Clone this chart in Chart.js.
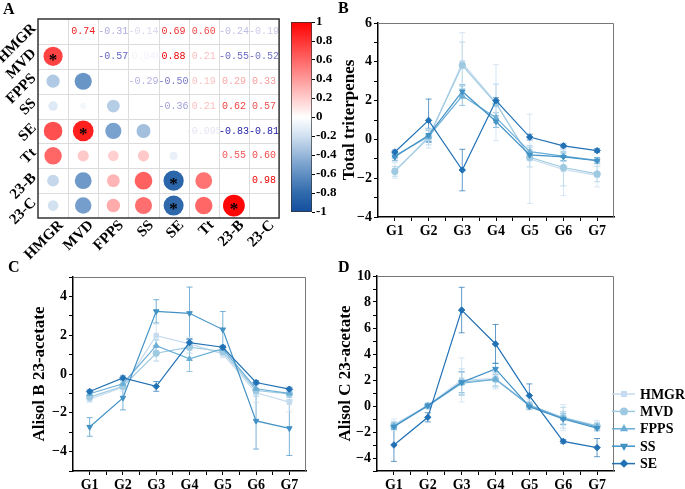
<!DOCTYPE html>
<html>
<head>
<meta charset="utf-8">
<script src="https://cdn.jsdelivr.net/npm/chart.js@4.4.1/dist/chart.umd.min.js"></script>
<style>
  html, body { margin: 0; padding: 0; background: #fff; }
  body { position: relative; width: 685px; height: 489px; overflow: hidden; }
  .panel { position: absolute; }
  .tag { position: absolute; font: bold 16px/16px 'Liberation Serif', serif; color: #000; }
</style>
</head>
<body>
<canvas id="corr" class="panel" width="290" height="262" style="left:0;top:0"></canvas>
<canvas id="cbar" class="panel" width="60" height="250" style="left:285px;top:0"></canvas>
<canvas id="tt" class="panel" width="300" height="250" style="left:330px;top:0"></canvas>
<canvas id="ab" class="panel" width="320" height="239" style="left:0;top:250px"></canvas>
<canvas id="ac" class="panel" width="350" height="239" style="left:335px;top:250px"></canvas>
<div class="tag" style="left:3px;top:1px">A</div>
<div class="tag" style="left:338px;top:0px">B</div>
<div class="tag" style="left:8px;top:259px">C</div>
<div class="tag" style="left:338px;top:259px">D</div>
<script>
// ---- panel A: correlation matrix ----
const traits = ['HMGR', 'MVD', 'FPPS', 'SS', 'SE', 'Tt', '23-B', '23-C'];
const corrHMGR = [1, 0.74, -0.31, -0.14, 0.69, 0.60, -0.24, -0.19];
const corrMVD  = [0.74, 1, -0.57, -0.048, 0.88, 0.21, -0.55, -0.52];
const corrFPPS = [-0.31, -0.57, 1, -0.29, -0.50, 0.19, 0.29, 0.33];
const corrSS   = [-0.14, -0.048, -0.29, 1, -0.36, 0.21, 0.62, 0.57];
const corrSE   = [0.69, 0.88, -0.50, -0.36, 1, -0.095, -0.83, -0.81];
const corrTt   = [0.60, 0.21, 0.19, 0.21, -0.095, 1, 0.55, 0.60];
const corr23B  = [-0.24, -0.55, 0.29, 0.62, -0.83, 0.55, 1, 0.98];
const corr23C  = [-0.19, -0.52, 0.33, 0.57, -0.81, 0.60, 0.98, 1];
const sigPairs = [['MVD', 'HMGR'], ['SE', 'MVD'], ['23-B', 'SE'], ['23-C', 'SE'], ['23-C', '23-B']];
const cbTicks = [1, 0.8, 0.6, 0.4, 0.2, 0, -0.2, -0.4, -0.6, -0.8, -1];
const cbRange = [-1, 1];

// ---- panels B-D: group profiles ----
const groups = ['G1', 'G2', 'G3', 'G4', 'G5', 'G6', 'G7'];
const genes = ['HMGR', 'MVD', 'FPPS', 'SS', 'SE'];

const ttHMGR = [-1.60, 0.05, 3.95, 1.90, -1.00, -1.55, -1.85];
const ttMVD  = [-1.65, 0.12, 3.82, 1.85, -0.92, -1.45, -1.78];
const ttFPPS = [-0.85, 0.15, 2.25, 1.12, -0.63, -0.86, -1.08];
const ttSS   = [-0.90, 0.22, 2.47, 0.92, -0.80, -0.90, -1.10];
const ttSE   = [-0.65, 0.98, -1.58, 2.00, 0.12, -0.33, -0.58];
const ttErrHMGR = [0.40, 0.50, 1.55, 1.95, 2.30, 1.35, 0.60];
const ttErrMVD  = [0.25, 0.40, 1.20, 1.00, 0.50, 0.95, 0.40];
const ttErrFPPS = [0.15, 0.30, 0.50, 0.25, 0.30, 0.25, 0.15];
const ttErrSS   = [0.20, 0.35, 0.35, 0.30, 0.25, 0.20, 0.15];
const ttErrSE   = [0.10, 1.10, 1.07, 0.15, 0.15, 0.10, 0.10];
const ttTicks = [-4, -2, 0, 2, 4, 6];

const abHMGR = [-1.30, -0.68, 1.98, 1.55, 1.04, -0.97, -1.45];
const abMVD  = [-1.19, -0.63, 1.07, 1.38, 1.16, -0.85, -1.02];
const abFPPS = [-1.02, -0.50, 1.46, 0.78, 1.30, -0.76, -1.00];
const abSS   = [-2.73, -1.23, 3.23, 3.13, 2.29, -2.42, -2.80];
const abSE   = [-0.90, -0.20, -0.64, 1.62, 1.38, -0.44, -0.78];
const abErrHMGR = [0.15, 0.20, 0.60, 0.35, 0.20, 0.50, 0.50];
const abErrMVD  = [0.10, 0.15, 0.40, 0.30, 0.15, 0.30, 0.30];
const abErrFPPS = [0.10, 0.15, 0.30, 0.65, 0.15, 0.20, 0.20];
const abErrSS   = [0.48, 0.62, 0.60, 1.35, 0.93, 1.45, 1.40];
const abErrSE   = [0.08, 0.10, 0.25, 0.20, 0.10, 0.10, 0.10];
const abTicks = [-4, -2, 0, 2, 4];

const acHMGR = [-1.45, 0.05, 2.00, 2.10, 0.10, -0.90, -1.50];
const acMVD  = [-1.50, 0.00, 1.85, 2.05, 0.05, -0.90, -1.55];
const acFPPS = [-1.55, 0.00, 1.75, 2.05, 0.05, -0.95, -1.60];
const acSS   = [-1.60, 0.03, 1.82, 2.85, -0.05, -1.00, -1.70];
const acSE   = [-3.00, -0.87, 7.38, 4.77, 0.80, -2.72, -3.20];
const acErrHMGR = [0.45, 0.20, 1.70, 0.80, 0.40, 1.00, 0.40];
const acErrMVD  = [0.30, 0.15, 1.00, 0.60, 0.30, 0.80, 0.30];
const acErrFPPS = [0.25, 0.10, 0.90, 0.50, 0.20, 0.50, 0.25];
const acErrSS   = [0.20, 0.10, 0.80, 0.45, 0.20, 0.40, 0.20];
const acErrSE   = [1.26, 0.35, 1.75, 1.50, 0.90, 0.15, 0.70];
const acTicks = [-4, -2, 0, 2, 4, 6, 8, 10];

const geneColors = ['#c6dbef', '#9ecae1', '#6baed6', '#4292c6', '#2171b5'];
const geneMarkers = ['rect', 'circle', 'triangle', 'triangle', 'rectRot'];
const markerTurn = [0, 0, 0, 180, 0];

Chart.defaults.font.family = "'Liberation Serif', serif";
Chart.defaults.color = '#000';

function mix(a, b, t) {
  return a.map((c, i) => Math.round(c + (b[i] - c) * t));
}

// blue - white - red scale used for the circles and the colour bar
function circleColor(v) {
  const stops = v >= 0
    ? [[0, [255, 255, 255]], [1, [255, 0, 0]]]
    : [[0, [255, 255, 255]], [0.2, [208, 224, 240]], [0.5, [122, 162, 206]], [0.8, [48, 106, 172]], [1, [18, 78, 158]]];
  const a = Math.min(1, Math.abs(v));
  for (let i = 1; i < stops.length; i++) {
    if (a <= stops[i][0] + 1e-9) {
      const t = (a - stops[i - 1][0]) / (stops[i][0] - stops[i - 1][0]);
      return 'rgb(' + mix(stops[i - 1][1], stops[i][1], t).join(',') + ')';
    }
  }
  return 'rgb(' + stops[stops.length - 1][1].join(',') + ')';
}

function textColor(v) {
  const t = Math.min(1, Math.abs(v) * 1.2);
  return 'rgb(' + mix([255, 255, 255], v >= 0 ? [235, 0, 0] : [30, 30, 165], t).join(',') + ')';
}

function fmtCorr(v) {
  return Math.abs(v) < 0.1 ? v.toFixed(3) : v.toFixed(2);
}

const corrRows = [corrHMGR, corrMVD, corrFPPS, corrSS, corrSE, corrTt, corr23B, corr23C];
const bubbles = [];
corrRows.forEach((row, i) => {
  row.forEach((v, j) => {
    if (j < i) bubbles.push({ x: j, y: i, r: 1 + 10 * Math.sqrt(Math.abs(v)), v: v });
  });
});

const corrDeco = {
  id: 'corrDeco',
  beforeDatasetsDraw(chart) {
    const { ctx, chartArea: a, scales: { x, y } } = chart;
    ctx.save();
    ctx.strokeStyle = '#dcdcdc';
    ctx.lineWidth = 1;
    ctx.beginPath();
    for (let k = 0; k < traits.length - 1; k++) {
      const px = Math.round(x.getPixelForValue(k + 0.5)) + 0.5;
      const py = Math.round(y.getPixelForValue(k + 0.5)) + 0.5;
      ctx.moveTo(px, a.top); ctx.lineTo(px, a.bottom);
      ctx.moveTo(a.left, py); ctx.lineTo(a.right, py);
    }
    ctx.stroke();
    ctx.restore();
  },
  afterDatasetsDraw(chart) {
    const { ctx, chartArea: a, scales: { x, y } } = chart;
    ctx.save();
    // values in the upper triangle
    ctx.font = "10px 'Liberation Mono', monospace";
    ctx.textAlign = 'center';
    ctx.textBaseline = 'middle';
    corrRows.forEach((row, i) => {
      row.forEach((v, j) => {
        if (j <= i) return;
        ctx.fillStyle = textColor(v);
        ctx.fillText(fmtCorr(v), x.getPixelForValue(j), y.getPixelForValue(i));
      });
    });
    // significance marks
    ctx.fillStyle = '#000';
    ctx.font = "bold 17px 'Liberation Serif', serif";
    sigPairs.forEach(([r, c]) => {
      const i = traits.indexOf(r), j = traits.indexOf(c);
      ctx.fillText('*', x.getPixelForValue(j), y.getPixelForValue(i) + 4);
    });
    // frame
    ctx.strokeStyle = '#333';
    ctx.lineWidth = 1.5;
    ctx.strokeRect(a.left, a.top, a.right - a.left, a.bottom - a.top);
    // rotated labels
    ctx.font = "bold 15px 'Liberation Serif', serif";
    ctx.textAlign = 'right';
    traits.forEach((t, k) => {
      ctx.save();
      ctx.translate(a.left - 4, y.getPixelForValue(k) - 5);
      ctx.rotate(-Math.PI / 4);
      ctx.fillText(t, 0, 0);
      ctx.restore();
      ctx.save();
      ctx.translate(x.getPixelForValue(k) + 8, a.bottom + 5);
      ctx.rotate(-Math.PI / 4);
      ctx.fillText(t, 0, 0);
      ctx.restore();
    });
    ctx.restore();
  }
};

new Chart(document.getElementById('corr'), {
  type: 'bubble',
  data: {
    datasets: [{
      data: bubbles,
      backgroundColor: c => (c.raw ? circleColor(c.raw.v) : '#fff'),
      borderWidth: 0
    }]
  },
  options: {
    responsive: false, animation: false, events: [],
    layout: { padding: { left: 38, top: 19, right: 5, bottom: 44 } },
    plugins: { legend: { display: false }, tooltip: { enabled: false } },
    scales: {
      x: { display: false, min: -0.5, max: 7.5 },
      y: { display: false, min: -0.5, max: 7.5, reverse: true }
    }
  },
  plugins: [corrDeco]
});

function barGradient(c) {
  const area = c.chart.chartArea;
  if (!area) return '#fff';
  const g = c.chart.ctx.createLinearGradient(0, area.bottom, 0, area.top);
  for (let i = 0; i <= 20; i++) g.addColorStop(i / 20, circleColor(-1 + i / 10));
  return g;
}

new Chart(document.getElementById('cbar'), {
  type: 'bar',
  data: {
    labels: [''],
    datasets: [{
      data: [cbRange],
      backgroundColor: barGradient,
      borderColor: '#333', borderWidth: 1, borderSkipped: false,
      barPercentage: 1, categoryPercentage: 1
    }]
  },
  options: {
    responsive: false, animation: false, events: [],
    layout: { padding: { left: 6, top: 22, right: 0, bottom: 38 } },
    plugins: { legend: { display: false }, tooltip: { enabled: false } },
    scales: {
      x: { display: false },
      y: {
        position: 'right', min: cbRange[0], max: cbRange[1],
        afterBuildTicks: s => { s.ticks = cbTicks.map(v => ({ value: v })); },
        afterFit: s => { s.width = 33; },
        ticks: {
          autoSkip: false, padding: 1, color: '#000', font: { size: 13, weight: 'bold' },
          callback: v => { const r = Math.round(v * 10) / 10; return r === 0 ? '0' : String(r); }
        },
        grid: { drawOnChartArea: false, tickLength: 3, tickColor: '#000' },
        border: { display: false }
      }
    }
  }
});

// ---- line panels ----
const errorBars = {
  id: 'errorBars',
  beforeDatasetsDraw(chart) {
    const { ctx, scales: { x, y } } = chart;
    chart.data.datasets.slice().reverse().forEach(ds => {
      ctx.save();
      ctx.strokeStyle = ds.borderColor;
      ctx.globalAlpha = 0.7;
      ctx.lineWidth = 1;
      ctx.beginPath();
      ds.data.forEach((p, i) => {
        const e = ds.errs[i];
        const px = x.getPixelForValue(p.x);
        const y1 = y.getPixelForValue(p.y + e), y2 = y.getPixelForValue(p.y - e);
        ctx.moveTo(px, y1); ctx.lineTo(px, y2);
        ctx.moveTo(px - 3, y1); ctx.lineTo(px + 3, y1);
        ctx.moveTo(px - 3, y2); ctx.lineTo(px + 3, y2);
      });
      ctx.stroke();
      ctx.restore();
    });
  }
};

const frame = {
  id: 'frame',
  afterDraw(chart) {
    const { ctx, chartArea: a } = chart;
    ctx.save();
    ctx.strokeStyle = '#777';
    ctx.lineWidth = 1;
    ctx.beginPath();
    ctx.moveTo(a.left, a.top + 0.5);
    ctx.lineTo(a.right - 0.5, a.top + 0.5);
    ctx.lineTo(a.right - 0.5, a.bottom);
    ctx.stroke();
    ctx.restore();
  }
};

const sideLegend = {
  id: 'sideLegend',
  afterDraw(chart) {
    const { ctx, chartArea: a } = chart;
    ctx.save();
    chart.data.datasets.forEach((ds, k) => {
      const yy = a.bottom - 77 + 17.4 * k;
      ctx.strokeStyle = ds.borderColor;
      ctx.fillStyle = ds.borderColor;
      ctx.lineWidth = 1.5;
      ctx.beginPath();
      ctx.moveTo(a.right - 2, yy); ctx.lineTo(a.right + 21, yy);
      ctx.stroke();
      Chart.helpers.drawPoint(ctx, { pointStyle: ds.pointStyle, rotation: ds.pointRotation, radius: 3.2, borderWidth: 1 }, a.right + 10, yy);
      ctx.fillStyle = '#000';
      ctx.font = "bold 14px 'Liberation Serif', serif";
      ctx.textBaseline = 'middle';
      ctx.fillText(ds.label, a.right + 26, yy + 1);
    });
    ctx.restore();
  }
};

function minus(v) {
  return v < 0 ? '\u2212' + Math.abs(v) : String(v);
}

function makeLines(id, title, series, errs, yMin, yMax, yMajor, box, extra) {
  const datasets = series.map((vals, k) => ({
    label: genes[k],
    data: vals.map((v, i) => ({ x: i + 1, y: v })),
    errs: errs[k],
    borderColor: geneColors[k],
    backgroundColor: geneColors[k],
    pointBackgroundColor: geneColors[k],
    pointBorderColor: geneColors[k],
    borderWidth: 1.2,
    pointRadius: 3.2,
    pointBorderWidth: 1,
    pointStyle: geneMarkers[k],
    pointRotation: markerTurn[k],
    order: series.length - 1 - k
  }));
  return new Chart(document.getElementById(id), {
    type: 'line',
    data: { datasets },
    options: {
      responsive: false, animation: false, events: [],
      layout: { padding: { left: 0, top: box.top, right: box.right, bottom: 0 } },
      plugins: { legend: { display: false }, tooltip: { enabled: false } },
      scales: {
        x: {
          type: 'linear', min: 0.5, max: 7.5,
          afterBuildTicks: s => {
            s.ticks = [];
            for (let n = 0; n <= 12; n++) s.ticks.push({ value: 1 + n * 0.5 });
          },
          afterFit: s => { s.height = box.xh; },
          ticks: {
            autoSkip: false, maxRotation: 0, padding: 2, color: '#000',
            font: { size: 14, weight: 'bold' },
            callback: v => (Number.isInteger(v) ? groups[v - 1] : '')
          },
          grid: { drawOnChartArea: false, tickLength: 4, tickColor: '#000' },
          border: { color: '#000', width: 1.5 }
        },
        y: {
          min: yMin, max: yMax,
          afterBuildTicks: s => {
            s.ticks = [];
            for (let v = yMin; v <= yMax; v++) s.ticks.push({ value: v });
          },
          afterFit: s => { s.width = box.yw; },
          ticks: {
            autoSkip: false, padding: 2, color: '#000', font: { size: 14, weight: 'bold' },
            callback: v => (yMajor.includes(v) ? minus(v) : '')
          },
          title: {
            display: true, text: title, color: '#000',
            font: { size: 17, weight: 'bold' },
            padding: { top: box.tp, bottom: 0 }
          },
          grid: { drawOnChartArea: false, tickLength: 4, tickColor: '#000' },
          border: { color: '#000', width: 1.5 }
        }
      }
    },
    plugins: [errorBars, frame].concat(extra || [])
  });
}

makeLines('tt', 'Total triterpenes',
  [ttHMGR, ttMVD, ttFPPS, ttSS, ttSE],
  [ttErrHMGR, ttErrMVD, ttErrFPPS, ttErrSS, ttErrSE],
  -4, 6, ttTicks, { top: 23, right: 16, yw: 48, xh: 33, tp: 9 });

makeLines('ab', 'Alisol B 23-acetate',
  [abHMGR, abMVD, abFPPS, abSS, abSE],
  [abErrHMGR, abErrMVD, abErrFPPS, abErrSS, abErrSE],
  -5, 5, abTicks, { top: 27, right: 14, yw: 73, xh: 18, tp: 29 });

makeLines('ac', 'Alisol C 23-acetate',
  [acHMGR, acMVD, acFPPS, acSS, acSE],
  [acErrHMGR, acErrMVD, acErrFPPS, acErrSS, acErrSE],
  -5, 10, acTicks, { top: 26, right: 71, yw: 42, xh: 18, tp: 0 }, [sideLegend]);
</script>
</body>
</html>
